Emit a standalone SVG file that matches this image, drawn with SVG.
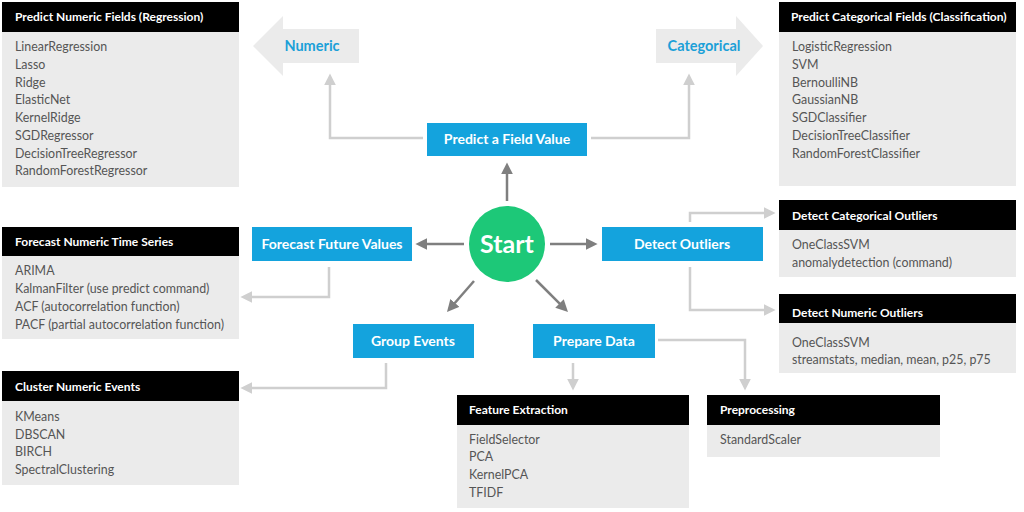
<svg xmlns="http://www.w3.org/2000/svg" width="1024" height="512" viewBox="0 0 1024 512">
<style>
.hd{fill:#000}
.bd{fill:#ebebeb}
.ht{font-family:Lato,"Liberation Sans",sans-serif;font-size:12px;font-weight:700;fill:#fff}
.it{font-family:Lato,"Liberation Sans",sans-serif;font-size:12.4px;fill:#555}
.bl{fill:#14a3dd}
.bt{font-family:Lato,"Liberation Sans",sans-serif;font-size:14px;font-weight:700;fill:#fff;text-anchor:middle}
.at{font-family:Lato,"Liberation Sans",sans-serif;font-size:14.5px;font-weight:700;fill:#1ba0d8;text-anchor:middle}
.dk{stroke:#7f7f7f;stroke-width:2.5;fill:none;marker-end:url(#ad)}
.lt{stroke:#cfcfcf;stroke-width:2.5;fill:none;marker-end:url(#al)}
</style>
<defs>
<marker id="ad" viewBox="0 0 10 10" refX="2" refY="5" markerWidth="12" markerHeight="12" markerUnits="userSpaceOnUse" orient="auto"><path d="M0,0 L10,5 L0,10 z" fill="#7f7f7f"/></marker>
<marker id="al" viewBox="0 0 10 10" refX="2" refY="5" markerWidth="12" markerHeight="12" markerUnits="userSpaceOnUse" orient="auto"><path d="M0,0 L10,5 L0,10 z" fill="#cfcfcf"/></marker>
</defs>
<rect width="1024" height="512" fill="#fff"/>

<g id="connectors">
<path class="lt" d="M423,138 H330 V83"/>
<path class="lt" d="M591,138 H689 V83"/>
<path class="lt" d="M329,267 V297 H250"/>
<path class="lt" d="M386,363 V388 H250"/>
<path class="lt" d="M690,222 V213 H766"/>
<path class="lt" d="M690,267 V310 H766"/>
<path class="lt" d="M573,363 V381"/>
<path class="lt" d="M658,340 H745 V381"/>
<path class="dk" d="M507,201 V172"/>
<path class="dk" d="M464,244 H425"/>
<path class="dk" d="M550,244 H588"/>
<path class="dk" d="M474,281 L453.3,304.8"/>
<path class="dk" d="M536,280 L561.2,305.2"/>
</g>

<g id="numeric-arrow">
<polygon points="253,46 283,16 283,29 359,29 359,63 283,63 283,76" fill="#ebebeb"/>
<text class="at" x="312" y="51">Numeric</text>
</g>
<g id="categorical-arrow">
<polygon points="656,29 736,29 736,16 763,46 736,76 736,63 656,63" fill="#ebebeb"/>
<text class="at" x="704" y="51">Categorical</text>
</g>

<g id="start">
<circle cx="507" cy="244" r="38" fill="#1dc878"/>
<text x="507" y="253" font-family="Lato,'Liberation Sans',sans-serif" font-size="25" font-weight="700" fill="#fff" text-anchor="middle">Start</text>
</g>

<g id="predict-field">
<rect class="bl" x="427" y="123" width="160" height="33"/>
<text class="bt" x="507" y="144">Predict a Field Value</text>
</g>
<g id="forecast-values">
<rect class="bl" x="252" y="227" width="160" height="34"/>
<text class="bt" x="332" y="249">Forecast Future Values</text>
</g>
<g id="detect-outliers">
<rect class="bl" x="602" y="227" width="161" height="34"/>
<text class="bt" x="682" y="249">Detect Outliers</text>
</g>
<g id="group-events">
<rect class="bl" x="353" y="324" width="121" height="34"/>
<text class="bt" x="413" y="346">Group Events</text>
</g>
<g id="prepare-data">
<rect class="bl" x="533" y="324" width="122" height="34"/>
<text class="bt" x="594" y="346">Prepare Data</text>
</g>

<g id="regression">
<rect class="bd" x="2" y="32" width="237" height="155"/>
<rect class="hd" x="2" y="2" width="237" height="30"/>
<text class="ht" x="15" y="21">Predict Numeric Fields (Regression)</text>
<text class="it" x="15" y="51">LinearRegression</text>
<text class="it" x="15" y="69">Lasso</text>
<text class="it" x="15" y="87">Ridge</text>
<text class="it" x="15" y="104">ElasticNet</text>
<text class="it" x="15" y="122">KernelRidge</text>
<text class="it" x="15" y="140">SGDRegressor</text>
<text class="it" x="15" y="158">DecisionTreeRegressor</text>
<text class="it" x="15" y="175">RandomForestRegressor</text>
</g>

<g id="classification">
<rect class="bd" x="779" y="32" width="237" height="154"/>
<rect class="hd" x="779" y="2" width="237" height="30"/>
<text class="ht" x="791" y="21">Predict Categorical Fields (Classification)</text>
<text class="it" x="792" y="51">LogisticRegression</text>
<text class="it" x="792" y="69">SVM</text>
<text class="it" x="792" y="87">BernoulliNB</text>
<text class="it" x="792" y="104">GaussianNB</text>
<text class="it" x="792" y="122">SGDClassifier</text>
<text class="it" x="792" y="140">DecisionTreeClassifier</text>
<text class="it" x="792" y="158">RandomForestClassifier</text>
</g>

<g id="time-series">
<rect class="bd" x="2" y="256" width="237" height="83"/>
<rect class="hd" x="2" y="227" width="237" height="29"/>
<text class="ht" x="15" y="246">Forecast Numeric Time Series</text>
<text class="it" x="15" y="275">ARIMA</text>
<text class="it" x="15" y="293">KalmanFilter (use predict command)</text>
<text class="it" x="15" y="311">ACF (autocorrelation function)</text>
<text class="it" x="15" y="329">PACF (partial autocorrelation function)</text>
</g>

<g id="cluster">
<rect class="bd" x="2" y="401" width="237" height="84"/>
<rect class="hd" x="2" y="371" width="237" height="30"/>
<text class="ht" x="15" y="391">Cluster Numeric Events</text>
<text class="it" x="15" y="421">KMeans</text>
<text class="it" x="15" y="439">DBSCAN</text>
<text class="it" x="15" y="456">BIRCH</text>
<text class="it" x="15" y="474">SpectralClustering</text>
</g>

<g id="categorical-outliers">
<rect class="bd" x="779" y="230" width="237" height="47"/>
<rect class="hd" x="779" y="200" width="237" height="30"/>
<text class="ht" x="792" y="220">Detect Categorical Outliers</text>
<text class="it" x="792" y="249">OneClassSVM</text>
<text class="it" x="792" y="267">anomalydetection (command)</text>
</g>

<g id="numeric-outliers">
<rect class="bd" x="779" y="323" width="237" height="50"/>
<rect class="hd" x="779" y="294" width="237" height="29"/>
<text class="ht" x="792" y="317">Detect Numeric Outliers</text>
<text class="it" x="792" y="347">OneClassSVM</text>
<text class="it" x="792" y="364">streamstats, median, mean, p25, p75</text>
</g>

<g id="feature-extraction">
<rect class="bd" x="457" y="425" width="232" height="83"/>
<rect class="hd" x="457" y="395" width="232" height="30"/>
<text class="ht" x="469" y="414">Feature Extraction</text>
<text class="it" x="469" y="444">FieldSelector</text>
<text class="it" x="469" y="461">PCA</text>
<text class="it" x="469" y="479">KernelPCA</text>
<text class="it" x="469" y="497">TFIDF</text>
</g>

<g id="preprocessing">
<rect class="bd" x="707" y="425" width="233" height="32"/>
<rect class="hd" x="707" y="395" width="233" height="30"/>
<text class="ht" x="720" y="414">Preprocessing</text>
<text class="it" x="720" y="444">StandardScaler</text>
</g>
</svg>
